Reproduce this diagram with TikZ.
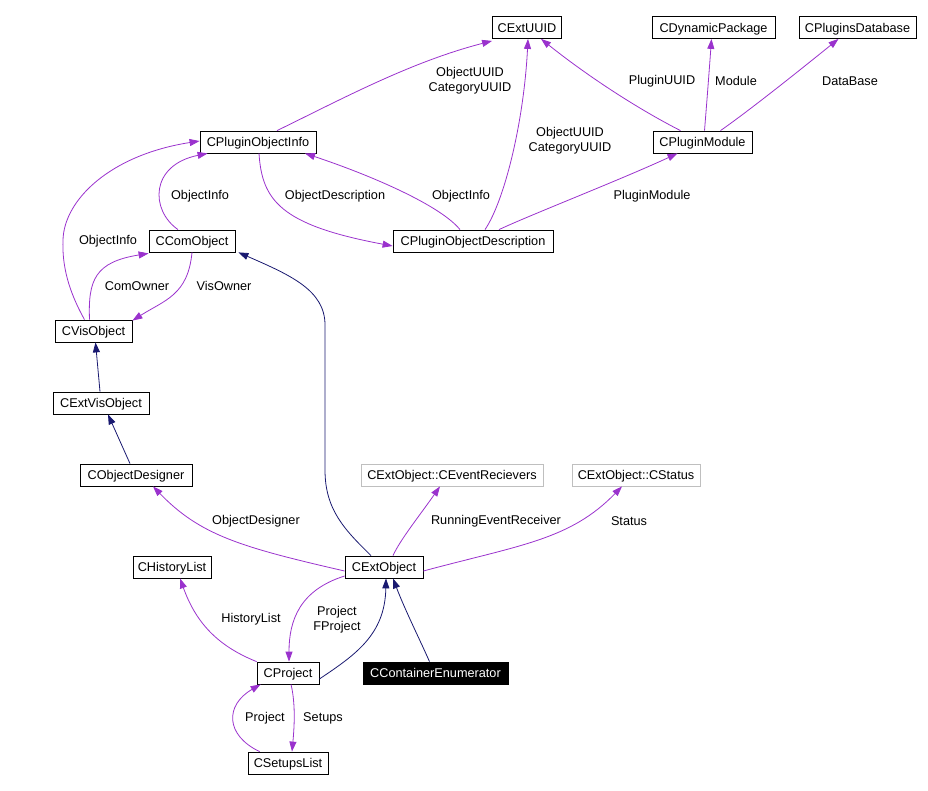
\documentclass[tikz,border=0pt]{standalone}
\usepackage{fontspec}
\setmainfont{Liberation Sans}
\usetikzlibrary{arrows.meta}
\definecolor{usecol}{HTML}{9A32CD}
\definecolor{inhcol}{HTML}{191970}
\definecolor{extcol}{HTML}{BFBFBF}

\begin{document}
\begin{tikzpicture}[x=1pt, y=-1pt, font=\fontsize{12.7}{15}\selectfont,
  cls/.style = {draw, line width=0.8pt, minimum height=22, inner sep=0, text height=9.1pt, text depth=0pt},
  extcls/.style = {cls, draw=extcol},
  curcls/.style = {cls, fill=black, text=white},
  lbl/.style = {align=center, inner sep=0},
  use/.style = {->, >={Triangle[length=10pt,width=7pt]}, usecol, line width=0.8pt},
  inh/.style = {->, >={Triangle[length=10pt,width=7pt]}, inhcol, line width=0.8pt}]
\useasboundingbox (0,0) rectangle (928,791);

\node[cls, minimum width=69] (uuid) at (527,27.5) {CExtUUID};
\node[cls, minimum width=123] (dynpkg) at (713.5,27.5) {CDynamicPackage};
\node[cls, minimum width=117] (plugdb) at (857.5,27.5) {CPluginsDatabase};
\node[cls, minimum width=116] (pinfo) at (258,142) {CPluginObjectInfo};
\node[cls, minimum width=99] (pmodule) at (702.5,142) {CPluginModule};
\node[cls, minimum width=86] (comobj) at (192,241) {CComObject};
\node[cls, minimum width=160] (pdesc) at (473,241) {CPluginObjectDescription};
\node[cls, minimum width=77] (visobj) at (93.5,331) {CVisObject};
\node[cls, minimum width=96] (extvis) at (101,403) {CExtVisObject};
\node[cls, minimum width=112] (objdes) at (136,475) {CObjectDesigner};
\node[extcls, minimum width=182] (evrec) at (452,475) {CExtObject::CEventRecievers};
\node[extcls, minimum width=128] (status) at (636,475) {CExtObject::CStatus};
\node[cls, minimum width=78] (history) at (172,567) {CHistoryList};
\node[cls, minimum width=78] (extobj) at (384,567) {CExtObject};
\node[cls, minimum width=62] (project) at (288,673) {CProject};
\node[curcls, minimum width=145] (contenum) at (435.5,673) {CContainerEnumerator};
\node[cls, minimum width=80] (setups) at (288,763) {CSetupsList};

% edge labels
\node[lbl] (l1) at (470,81) {ObjectUUID\\CategoryUUID};
\node[lbl] (l2) at (570,141) {ObjectUUID\\CategoryUUID};
\node[lbl] (l3) at (662,81) {PluginUUID};
\node[lbl] (l4) at (736,81) {Module};
\node[lbl] (l5) at (850,81) {DataBase};
\node[lbl] (l6) at (652,196) {PluginModule};
\node[lbl] (l7) at (461,196) {ObjectInfo};
\node[lbl] (l8) at (335,196) {ObjectDescription};
\node[lbl] (l9) at (200,196) {ObjectInfo};
\node[lbl] (l10) at (108,241) {ObjectInfo};
\node[lbl] (l11) at (137,286) {ComOwner};
\node[lbl] (l12) at (224,286) {VisOwner};
\node[lbl] (l13) at (256,521) {ObjectDesigner};
\node[lbl] (l14) at (496,521) {RunningEventReceiver};
\node[lbl] (l15) at (629,521) {Status};
\node[lbl] (l16) at (251,619) {HistoryList};
\node[lbl] (l17) at (337,620) {Project\\FProject};
\node[lbl] (l18) at (265,718) {Project};
\node[lbl] (l19) at (323,718) {Setups};

% usage
\draw[use] ([xshift=19pt]pinfo.north) .. controls (340,100) and (410,62) .. ([yshift=-2pt]uuid.south west);
\draw[use] ([xshift=12pt]pdesc.north) .. controls (505,200) and (524,120) .. ([xshift=1pt]uuid.south);
\draw[use] ([xshift=-22pt]pmodule.north) .. controls (640,110) and (590,78) .. ([xshift=14pt]uuid.south);
\draw[use] ([xshift=2pt]pmodule.north) .. controls (707,100) and (710,60) .. ([xshift=-2pt]dynpkg.south);
\draw[use] ([xshift=18pt]pmodule.north) .. controls (750,110) and (800,70) .. ([xshift=-19pt]plugdb.south);
\draw[use] ([xshift=26pt]pdesc.north) .. controls (530,215) and (620,180) .. ([xshift=-25pt]pmodule.south);
\draw[use] ([xshift=-13pt]pdesc.north) .. controls (440,205) and (370,175) .. ([xshift=47pt]pinfo.south);
\draw[use] ([xshift=1pt]pinfo.south) .. controls (262,200) and (280,225) .. ([yshift=-5pt]pdesc.west);
\draw[use] ([xshift=-14pt]comobj.north) .. controls (150,210) and (150,165) .. ([xshift=8pt]pinfo.south west);
\draw[use] ([xshift=-9pt]visobj.north) .. controls (68,290) and (62,265) .. (63,240)
  .. controls (64,200) and (110,155) .. ([yshift=1pt]pinfo.west);
\draw[use] ([xshift=-4pt]visobj.north) .. controls (88,280) and (95,262) .. ([yshift=-1pt]comobj.south west);
\draw[use] (comobj.south) .. controls (188,295) and (165,300) .. ([yshift=-1pt]visobj.north east);
\draw[use] ([yshift=-4pt]extobj.west) .. controls (240,547) and (200,535) .. ([xshift=17pt]objdes.south);
\draw[use] ([xshift=9pt]extobj.north) .. controls (400,540) and (420,515) .. ([xshift=-12pt]evrec.south);
\draw[use] ([yshift=-4pt]extobj.east) .. controls (520,545) and (570,540) .. ([xshift=-14pt]status.south);
\draw[use] ([yshift=-9pt]extobj.west) .. controls (300,590) and (289,620) .. ([xshift=1pt]project.north);
\draw[use] (project.north west) .. controls (215,645) and (195,620) .. ([xshift=8pt]history.south);
\draw[use] ([xshift=3pt]project.south) .. controls (296,705) and (294,730) .. ([xshift=4pt]setups.south |- setups.north);
\draw[use] ([xshift=12pt]setups.north west) .. controls (225,735) and (225,705) .. ([xshift=4pt]project.south west);

% inheritance
\draw[inh] ([xshift=-13pt]extobj.north) .. controls (345,530) and (325,510) .. (325,470)
  -- (325,325) .. controls (325,290) and (290,275) .. ([xshift=3pt]comobj.south east);
\draw[inh] ([xshift=-1pt]extvis.north) -- ([xshift=2pt]visobj.south);
\draw[inh] ([xshift=-6pt]objdes.north) -- ([xshift=7pt]extvis.south);
\draw[inh] ([yshift=-6pt]project.east) .. controls (355,655) and (385,635) .. ([xshift=2pt]extobj.south);
\draw[inh] ([xshift=-6pt]contenum.north) .. controls (420,640) and (405,610) .. ([xshift=9pt]extobj.south);

\end{tikzpicture}
\end{document}
